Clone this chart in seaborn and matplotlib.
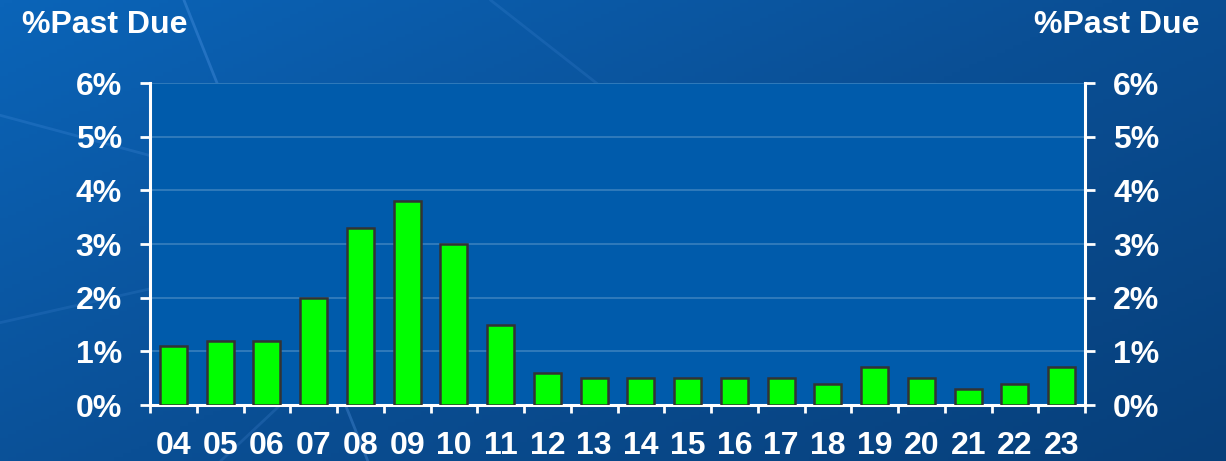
import numpy as np
import pandas as pd
import matplotlib
matplotlib.use('Agg')
import matplotlib.pyplot as plt
import seaborn as sns
from matplotlib.colors import LinearSegmentedColormap

# data
years = ['04', '05', '06', '07', '08', '09', '10', '11', '12', '13',
         '14', '15', '16', '17', '18', '19', '20', '21', '22', '23']
past_due = [1.1, 1.2, 1.2, 2.0, 3.3, 3.8, 3.0, 1.5, 0.6, 0.5,
            0.5, 0.5, 0.5, 0.5, 0.4, 0.7, 0.5, 0.3, 0.4, 0.7]
y_ticks = [0, 1, 2, 3, 4, 5, 6]
axis_title = '%Past Due'

df = pd.DataFrame({'year': years, 'pct': past_due})

sns.set_theme(style='white')
plt.rcParams['font.family'] = ['Liberation Sans', 'DejaVu Sans']
plt.rcParams['font.weight'] = 'bold'

fig = plt.figure(figsize=(12.26, 4.61), dpi=100)

# slide background: blue gradient with a few faint streaks
bg = fig.add_axes([0, 0, 1, 1], zorder=-10)
gx, gy = np.meshgrid(np.linspace(0, 1, 300), np.linspace(0, 1, 120))
grad = 0.55 * gx + 0.45 * gy
cmap = LinearSegmentedColormap.from_list('slide', ['#0b64b8', '#0a4f95', '#073f7a'])
bg.imshow(grad, cmap=cmap, aspect='auto', extent=[0, 1, 0, 1], origin='upper')
for x0, x1, y0, y1, a in [(0.15, 0.30, 1.0, 0.0, 0.25), (0.0, 0.28, 0.75, 0.55, 0.15),
                          (0.0, 0.25, 0.30, 0.45, 0.12), (0.40, 0.52, 1.0, 0.75, 0.12),
                          (0.18, 0.28, 0.0, 0.25, 0.15)]:
    bg.plot([x0, x1], [y0, y1], color='#6fb0ff', alpha=a, lw=2)
bg.set_xlim(0, 1)
bg.set_ylim(0, 1)
bg.axis('off')

ax = fig.add_axes([150 / 1226, 1 - 405 / 461, 935 / 1226, 322 / 461])
ax.set_facecolor('#005bab')
sns.barplot(data=df, x='year', y='pct', color='#00ff00', edgecolor='#333333',
            linewidth=1.8, width=0.58, saturation=1, ax=ax, zorder=3)

ax.set_xlim(-0.5, len(years) - 0.5)
ax.set_ylim(0, 6)
ax.set_yticks(y_ticks)
ax.set_yticklabels([f'{t}%' for t in y_ticks])
ax.yaxis.grid(True, color='white', alpha=0.22, lw=1.2)
ax.set_axisbelow(True)

# x ticks at the category boundaries, labels at the centres
ax.set_xticks(np.arange(-0.5, len(years), 1.0))
ax.set_xticklabels([])
ax.set_xticks(np.arange(len(years)), minor=True)
ax.set_xticklabels(years, minor=True)
ax.tick_params(axis='x', which='major', length=6, width=2, color='white', direction='out', bottom=True)
ax.tick_params(axis='x', which='minor', length=0, pad=19, labelsize=23, labelcolor='white')
ax.tick_params(axis='y', length=7.2, width=2, color='white', direction='out', left=True,
               labelsize=23, labelcolor='white', pad=13)
for t in ax.get_xticklabels(minor=True) + ax.get_yticklabels():
    t.set_fontweight('bold')

for side in ['top', 'right']:
    ax.spines[side].set_visible(False)
for side in ['left', 'bottom']:
    ax.spines[side].set_color('white')
    ax.spines[side].set_linewidth(2.2)
ax.set_xlabel('')
ax.set_ylabel('')

ax2 = ax.twinx()
ax2.set_ylim(0, 6)
ax2.set_yticks(y_ticks)
ax2.set_yticklabels([f'{t}%' for t in y_ticks])
ax2.tick_params(axis='y', length=7.2, width=2, color='white', direction='out', right=True,
                labelsize=23, labelcolor='white', pad=13)
for t in ax2.get_yticklabels():
    t.set_fontweight('bold')
for side in ['top', 'left', 'bottom']:
    ax2.spines[side].set_visible(False)
ax2.spines['right'].set_color('white')
ax2.spines['right'].set_linewidth(2.2)
ax2.grid(False)

fig.text(22 / 1226, 1 - 25 / 461, axis_title, color='white', fontsize=23,
         fontweight='bold', ha='left', va='center')
fig.text(1200 / 1226, 1 - 25 / 461, axis_title, color='white', fontsize=23,
         fontweight='bold', ha='right', va='center')

fig.savefig('out.png', dpi=100)
